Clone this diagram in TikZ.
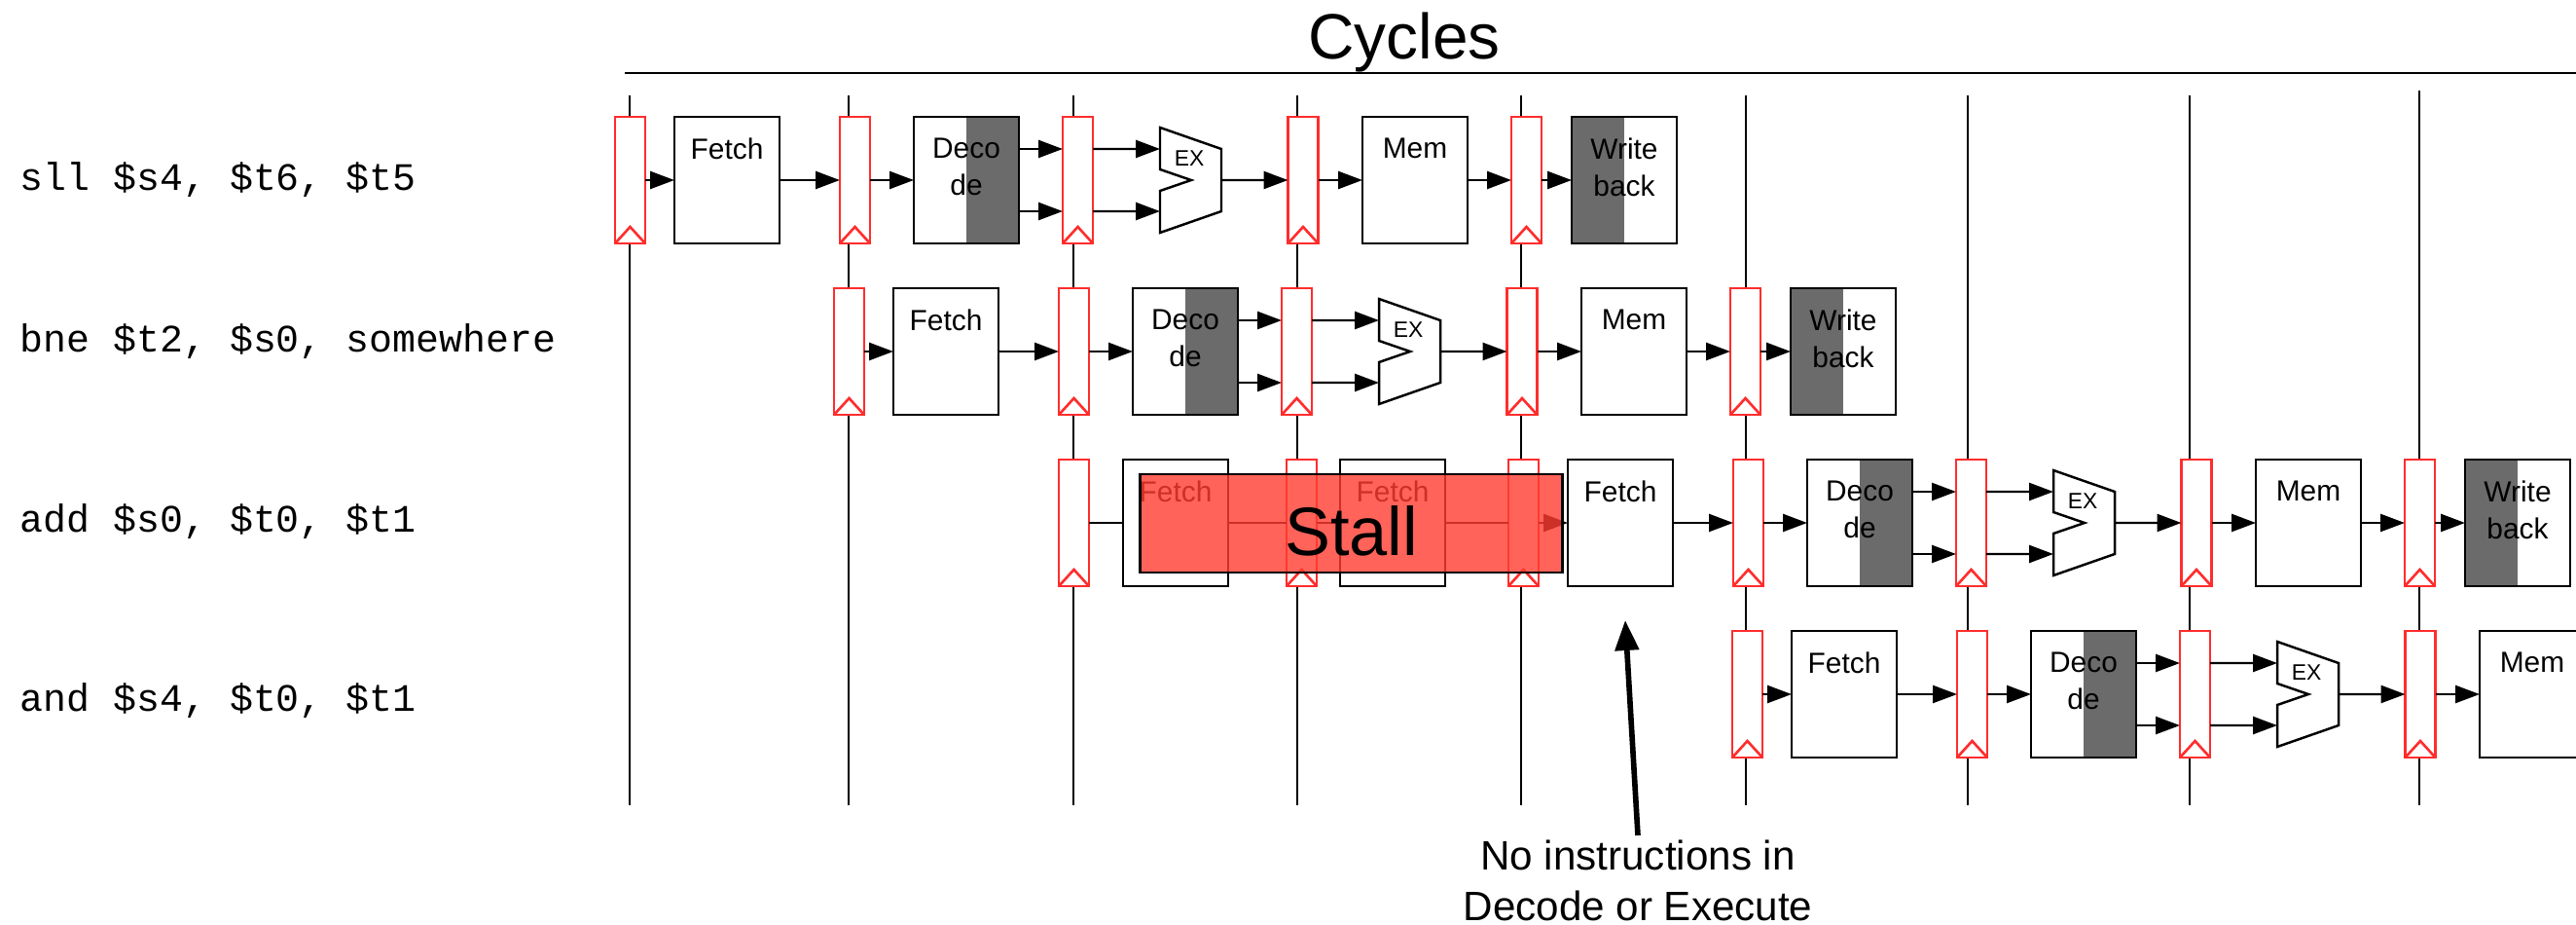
\documentclass[tikz,border=0pt]{standalone}
\usepackage{fontspec}
\setmainfont{Liberation Sans}
\setmonofont{Liberation Mono}
\definecolor{latchred}{RGB}{255,45,45}
\definecolor{stallred}{RGB}{255,60,48}
\definecolor{shadegris}{RGB}{107,107,107}
\usetikzlibrary{arrows.meta}
\tikzset{
	latch/.style={draw=latchred,line width=.75pt,fill=white,anchor=north west,inner sep=0pt,outer sep=0pt,
		minimum width=.31cm,minimum height=1.30cm,
		path picture={\draw[latchred,line width=.75pt] (path picture bounding box.south west) -- ++(.155,.17) -- (path picture bounding box.south east);}},
	stagebox/.style={draw,line width=.7pt,fill=white,anchor=north west,inner sep=0pt,outer sep=0pt,
		minimum width=1.08cm,minimum height=1.30cm},
	stagetext/.style={anchor=north,inner sep=0pt,yshift=-.21cm,align=center,
		font=\fontsize{8.5}{10.8}\selectfont},
	extext/.style={inner sep=0pt,font=\fontsize{6.5}{8}\selectfont},
	codetext/.style={anchor=west,inner sep=0pt,font=\fontsize{11.35}{13}\selectfont\ttfamily},
	link/.style={line width=.7pt,-{Triangle[length=.25cm,width=.18cm]}},
	plainlink/.style={line width=.7pt},
	clockline/.style={line width=.55pt},
	stallbox/.style={draw,line width=.7pt,fill=stallred,fill opacity=.8,text opacity=1,inner sep=0pt,
		minimum width=4.34cm,minimum height=1.01cm,font=\fontsize{20}{24}\selectfont},
	notetext/.style={align=center,inner sep=.04cm,font=\fontsize{12}{14.75}\selectfont},
}
\begin{document}
\begin{tikzpicture}
	\clip (0,0) rectangle (26.47,9.49);
	\fill[white] (0,0) rectangle (26.47,9.49);
	%% titre et horloge
	\node[inner sep=0pt,font=\fontsize{18.7}{22}\selectfont] (cycles) at (14.43,9.05) {Cycles};
	\draw[clockline,line width=.7pt] (6.42,8.74) -- (26.47,8.74);
	\foreach \x/\t in {6.47/8.51,8.72/8.51,11.03/8.51,13.33/8.51,15.63/8.51,17.94/8.51,20.22/8.51,22.50/8.51,24.86/8.56}
	\draw[clockline] (\x,\t) -- (\x,1.22);
	%% instructions
	\node[codetext] (sll) at (.2,7.64) {sll \$s4, \$t6, \$t5};
	\node[codetext] (bne) at (.2,5.98) {bne \$t2, \$s0, somewhere};
	\node[codetext] (add) at (.2,4.13) {add \$s0, \$t0, \$t1};
	\node[codetext] (and) at (.2,2.29) {and \$s4, \$t0, \$t1};
	%% les quatre lignes du pipeline
	\foreach \r/\x/\y in {a/6.32/8.29,b/8.57/6.53,c/15.50/4.77,d/17.80/3.01}{
		\node[latch] (l\r0) at (\x,\y) {};
		\node[stagebox] (f\r) at ({\x+.61},\y) {};
		\node[stagetext] (ft\r) at (f\r.north) {Fetch};
		\node[latch] (l\r1) at ({\x+2.31},\y) {};
		\node[stagebox] (d\r) at ({\x+3.07},\y) {};
		\fill[shadegris] (d\r.north) rectangle (d\r.south east);
		\draw[line width=.7pt] (d\r.north west) rectangle (d\r.south east);
		\node[stagetext] (dt\r) at (d\r.north) {Deco\\de};
		\node[latch] (l\r2) at ({\x+4.60},\y) {};
		%% bloc EX
		\coordinate (e\r) at ({\x+5.60},\y-.65);
		\draw[line width=.7pt,fill=white] (e\r) ++(0,.54) -- ++(.63,-.22) -- ++(0,-.64) -- ++(-.63,-.22) -- ++(0,.43) -- ++(.32,.11) -- ++(-.32,.11) -- cycle;
		\node[extext] (et\r) at ([shift={(.30,.22)}]e\r) {EX};
		\node[latch] (l\r3) at ({\x+6.915},\y) {};
		\node[stagebox] (m\r) at ({\x+7.68},\y) {};
		\node[stagetext] (mt\r) at (m\r.north) {Mem};
		%% fleches
		\draw[link] (l\r0) -- (f\r);
		\draw[link] (f\r) -- (l\r1);
		\draw[link] (l\r1) -- (d\r);
		\draw[link] ([yshift=.32cm]d\r.east) -- ([yshift=.32cm]l\r2.west);
		\draw[link] ([yshift=-.32cm]d\r.east) -- ([yshift=-.32cm]l\r2.west);
		\draw[link] ([yshift=.32cm]l\r2.east) -- ([yshift=.32cm]e\r);
		\draw[link] ([yshift=-.32cm]l\r2.east) -- ([yshift=-.32cm]e\r);
		\draw[link] ([xshift=.63cm]e\r) -- (l\r3);
		\draw[link] (l\r3) -- (m\r);
	}
	%% write back, sauf la derniere ligne
	\foreach \r/\x/\y in {a/6.32/8.29,b/8.57/6.53,c/15.50/4.77}{
		\node[latch] (l\r4) at ({\x+9.21},\y) {};
		\node[stagebox] (w\r) at ({\x+9.83},\y) {};
		\fill[shadegris] (w\r.north west) rectangle (w\r.south);
		\draw[line width=.7pt] (w\r.north west) rectangle (w\r.south east);
		\node[stagetext] (wt\r) at (w\r.north) {Write\\back};
		\draw[link] (m\r) -- (l\r4);
		\draw[link] (l\r4) -- (w\r);
	}
	%% les fetch bloques
	\node[latch] (ls1) at (10.88,4.77) {};
	\node[stagebox] (fs1) at (11.54,4.77) {};
	\node[stagetext] (fts1) at (fs1.north) {Fetch};
	\node[latch] (ls2) at (13.22,4.77) {};
	\node[stagebox] (fs2) at (13.77,4.77) {};
	\node[stagetext] (fts2) at (fs2.north) {Fetch};
	\draw[plainlink] (ls1) -- (fs1);
	\draw[plainlink] (fs1) -- (ls2);
	\draw[plainlink] (ls2) -- (fs2);
	\draw[plainlink] (fs2) -- (lc0);
	%% stall
	\node[stallbox] (stall) at (13.885,4.115) {\raisebox{-.33cm}[0pt][0pt]{Stall}};
	%% remarque
	\node[notetext] (note) at (16.83,.45) {No instructions in\\Decode or Execute};
	\coordinate (notetip) at (16.70,3.12);
	\draw[line width=1.6pt,-{Triangle[length=.31cm,width=.24cm]}] (note.north) -- (notetip);
\end{tikzpicture}
\end{document}
